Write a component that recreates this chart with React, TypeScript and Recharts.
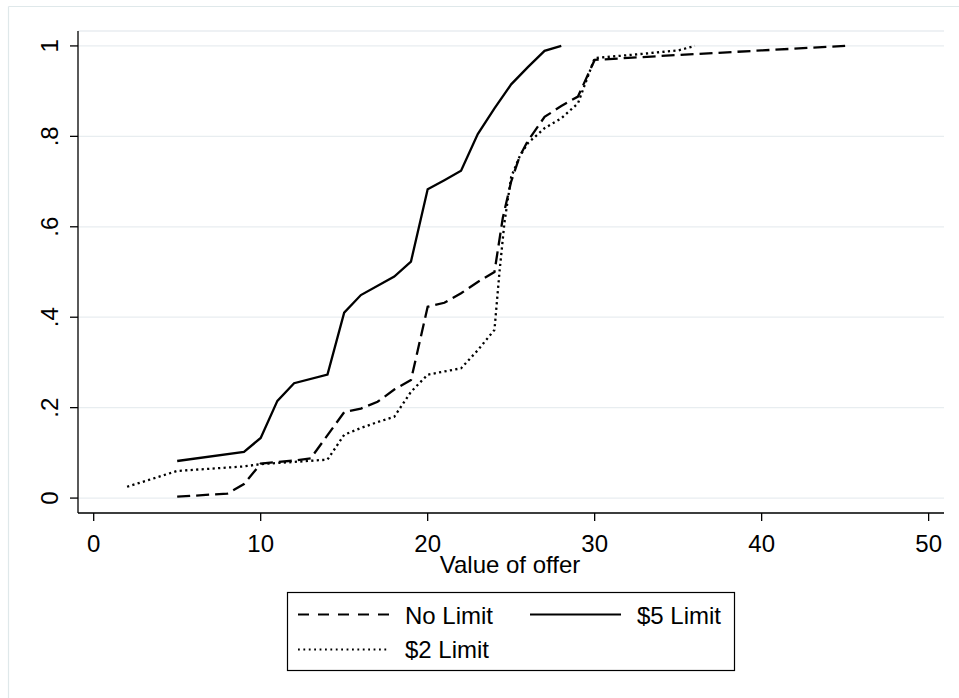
import React from 'react';
import { LineChart, Line, XAxis, YAxis, CartesianGrid } from 'recharts';

// x values (value of offer) and cumulative shares
const noLimitX = [5, 8, 9, 10, 11, 12, 13, 15, 16, 17, 18, 19, 20, 21, 22, 23, 24, 24.5, 25, 25.5, 26, 27, 28, 29, 30, 35, 40, 45];
const noLimitY = [0.003, 0.01, 0.031, 0.076, 0.08, 0.083, 0.088, 0.19, 0.198, 0.213, 0.24, 0.261, 0.423, 0.432, 0.453, 0.478, 0.5, 0.62, 0.7, 0.755, 0.79, 0.843, 0.867, 0.888, 0.969, 0.98, 0.99, 1.0];

const fiveLimitX = [5, 9, 10, 11, 12, 14, 15, 16, 18, 19, 20, 21, 22, 23, 24, 25, 26, 27, 28];
const fiveLimitY = [0.082, 0.102, 0.133, 0.215, 0.254, 0.273, 0.41, 0.449, 0.49, 0.523, 0.683, 0.703, 0.724, 0.805, 0.862, 0.915, 0.953, 0.989, 1.0];

const twoLimitX = [2, 5, 9, 10, 14, 15, 16, 17, 18, 19, 20, 21, 22, 23, 24, 24.3, 24.6, 25, 25.5, 26, 27, 28, 29, 30, 33, 35, 36];
const twoLimitY = [0.025, 0.06, 0.07, 0.075, 0.085, 0.14, 0.155, 0.168, 0.18, 0.235, 0.273, 0.28, 0.287, 0.327, 0.372, 0.5, 0.61, 0.71, 0.755, 0.785, 0.818, 0.84, 0.873, 0.973, 0.983, 0.99, 1.0];

const xTicks = [0, 10, 20, 30, 40, 50];
const yTicks = [0, 0.2, 0.4, 0.6, 0.8, 1];

const toPoints = (xs: number[], ys: number[]) => xs.map((x, i) => ({ x, y: ys[i] }));

const noLimitData = toPoints(noLimitX, noLimitY);
const fiveLimitData = toPoints(fiveLimitX, fiveLimitY);
const twoLimitData = toPoints(twoLimitX, twoLimitY);

const FONT = '"Liberation Sans", Arial, sans-serif';

const fmtY = (v: number) => (v === 0 ? '0' : v === 1 ? '1' : String(Number(v.toFixed(1))).replace(/^0/, ''));

// Stata-style vertical y labels
function RotatedTick(props: any) {
  const { x, y, payload } = props;
  return (
    <g transform={`translate(${x},${y}) rotate(-90)`}>
      <text x={0} y={0} dy="0.358em" textAnchor="middle" fontSize={24} fill="#000" fontFamily={FONT}>
        {fmtY(payload.value)}
      </text>
    </g>
  );
}

export default function App() {
  return (
    <div style={{ position: 'absolute', left: 0, top: 0, width: 959, height: 698, background: '#fff', fontFamily: FONT }}>
      <LineChart width={959} height={560} margin={{ top: 31, right: 15, bottom: 17, left: 30 }}>
        <CartesianGrid vertical={false} stroke="#e8edf0" strokeWidth={1.3} />
        <XAxis
          type="number"
          dataKey="x"
          domain={[-0.94, 50.92]}
          ticks={xTicks}
          interval={0}
          allowDataOverflow
          height={30}
          tickSize={8}
          tickMargin={14}
          axisLine={{ stroke: '#000', strokeWidth: 1.3 }}
          tickLine={{ stroke: '#000', strokeWidth: 1.3 }}
          tick={{ fill: '#000', fontSize: 24, fontFamily: FONT }}
        />
        <YAxis
          type="number"
          dataKey="y"
          domain={[-0.033, 1.033]}
          ticks={yTicks}
          interval={0}
          allowDataOverflow
          width={48}
          tickSize={8}
          tickMargin={21}
          axisLine={{ stroke: '#000', strokeWidth: 1.3 }}
          tickLine={{ stroke: '#000', strokeWidth: 1.3 }}
          tick={<RotatedTick />}
        />
        <Line data={noLimitData} dataKey="y" type="linear" stroke="#000" strokeWidth={2.3} strokeDasharray="13 6" dot={false} activeDot={false} isAnimationActive={false} />
        <Line data={fiveLimitData} dataKey="y" type="linear" stroke="#000" strokeWidth={2.3} dot={false} activeDot={false} isAnimationActive={false} />
        <Line data={twoLimitData} dataKey="y" type="linear" stroke="#000" strokeWidth={2.3} strokeDasharray="2.2 3.3" dot={false} activeDot={false} isAnimationActive={false} />
      </LineChart>

      <svg width={959} height={698} style={{ position: 'absolute', left: 0, top: 0, pointerEvents: 'none' }}>
        <line x1={8.5} y1={6.5} x2={959} y2={6.5} stroke="#dfe8ea" strokeWidth={1.2} />
        <line x1={8.5} y1={6.5} x2={8.5} y2={698} stroke="#dfe8ea" strokeWidth={1.2} />
        <text x={510} y={573} textAnchor="middle" fontSize={24} fill="#000" fontFamily={FONT}>
          Value of offer
        </text>
        <rect x={287.5} y={592.5} width={447} height={78} fill="#fff" stroke="#000" strokeWidth={1.2} />
        <line x1={298} y1={614.5} x2={389} y2={614.5} stroke="#000" strokeWidth={2} strokeDasharray="11 9" />
        <text x={405} y={624} fontSize={24} fill="#000" fontFamily={FONT}>No Limit</text>
        <line x1={530} y1={614.5} x2={621} y2={614.5} stroke="#000" strokeWidth={2} />
        <text x={637} y={624} fontSize={24} fill="#000" fontFamily={FONT}>$5 Limit</text>
        <line x1={298} y1={649.5} x2={389} y2={649.5} stroke="#000" strokeWidth={1.8} strokeDasharray="1.8 3.6" />
        <text x={405} y={658} fontSize={24} fill="#000" fontFamily={FONT}>$2 Limit</text>
      </svg>
    </div>
  );
}
